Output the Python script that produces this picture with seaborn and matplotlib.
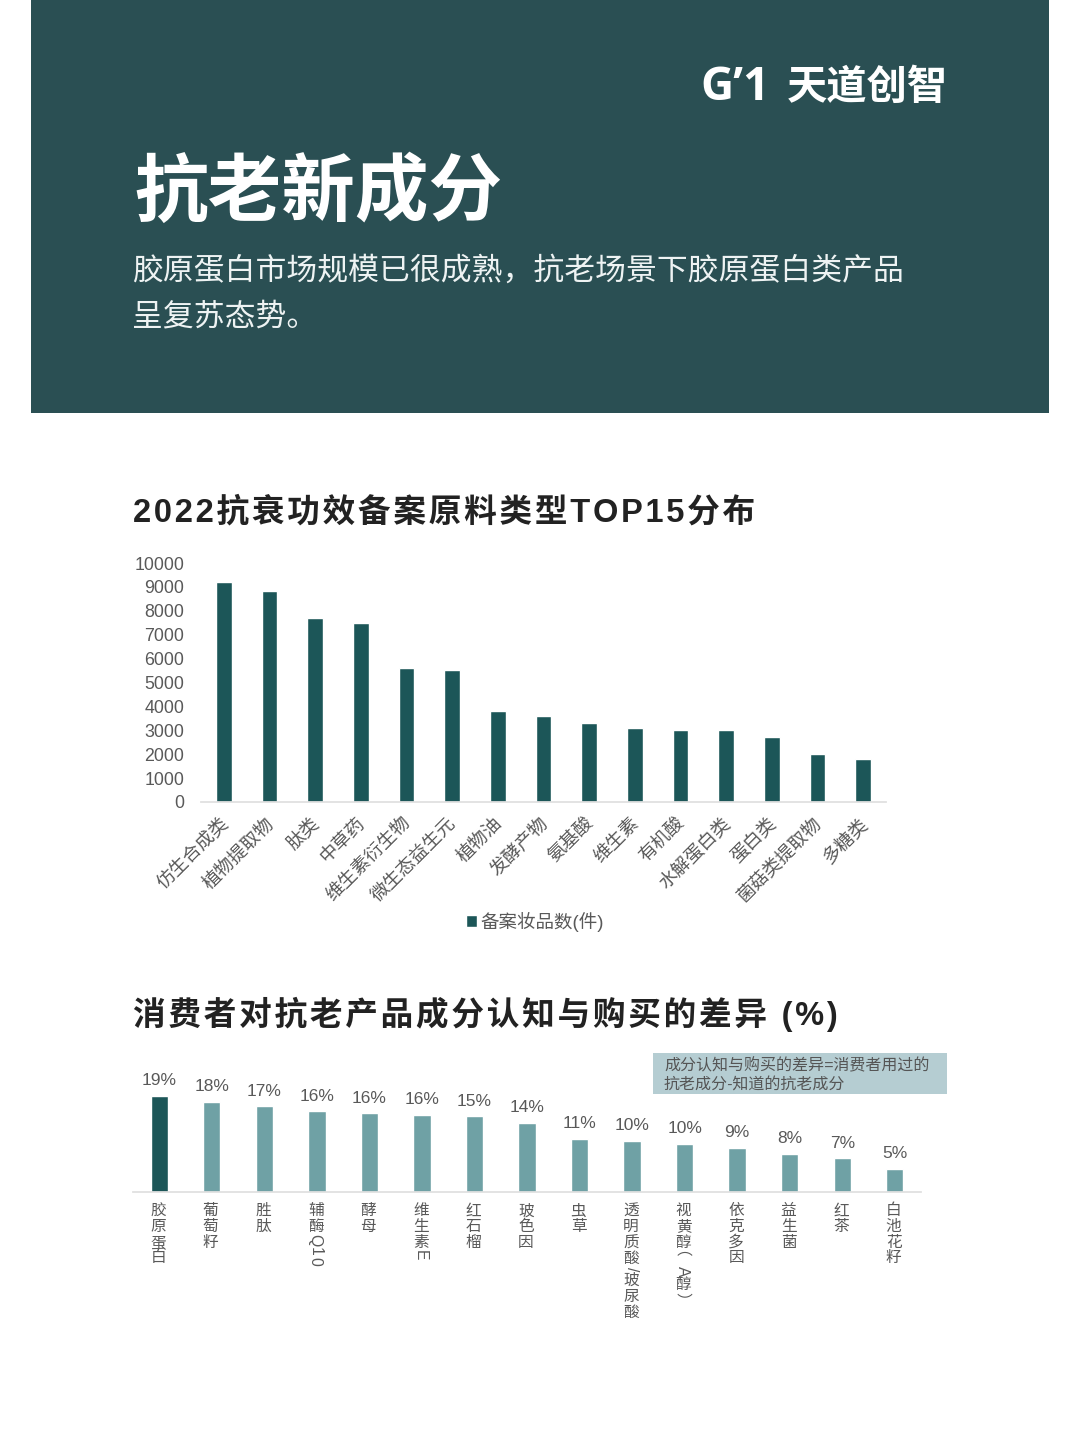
import matplotlib
matplotlib.use('Agg')
import matplotlib.pyplot as plt
from matplotlib.patches import Rectangle
from matplotlib.transforms import ScaledTranslation
import seaborn as sns

# Datos
types = ['仿生合成类', '植物提取物', '肽类', '中草药', '维生素衍生物', '微生态益生元', '植物油', '发酵产物',
         '氨基酸', '维生素', '有机酸', '水解蛋白类', '蛋白类', '菌菇类提取物', '多糖类']
type_counts = [9200, 8820, 7700, 7500, 5600, 5530, 3800, 3600, 3300, 3100, 3000, 3000, 2700, 2000, 1800]

ingredients = ['胶原蛋白', '葡萄籽', '胜肽', '辅酶Q10', '酵母', '维生素E', '红石榴', '玻色因', '虫草',
               '透明质酸/玻尿酸', '视黄醇（A醇）', '依克多因', '益生菌', '红茶', '白池花籽']
gap_values = [19.0, 17.8, 17.0, 16.0, 15.6, 15.3, 15.0, 13.7, 10.5, 10.1, 9.5, 8.7, 7.5, 6.7, 4.6]
gap_labels = ['19%', '18%', '17%', '16%', '16%', '16%', '15%', '14%', '11%', '10%', '10%', '9%', '8%', '7%', '5%']

W, H = 1080, 1440
DARK = '#1c5658'
LIGHT = '#6fa1a5'
HEADER = '#2a4f53'
GREY = '#595959'

sns.set_theme(style='white')
plt.rcParams['font.family'] = ['Liberation Sans', 'Noto Sans CJK SC']

fig = plt.figure(figsize=(W / 100, H / 100), dpi=100, facecolor='white')


def px_axes(left, top, right, bottom):
    return fig.add_axes([left / W, 1 - bottom / H, (right - left) / W, (bottom - top) / H])


def px_text(x, y, s, **kw):
    return fig.text(x / W, 1 - y / H, s, **kw)


# Cabecera
fig.add_artist(Rectangle((31 / W, 1 - 413 / H), 1018 / W, 413 / H, transform=fig.transFigure,
                         facecolor=HEADER, edgecolor='none'))
px_text(700, 88, 'G’1', color='white', fontsize=33, fontweight='bold', va='center', ha='left', family='Open Sans')
px_text(948, 88, '天道创智', color='white', fontsize=29, fontweight='bold', va='center', ha='right')
px_text(134, 194, '抗老新成分', color='white', fontsize=53, fontweight='bold', va='center', ha='left')
px_text(132, 272, '胶原蛋白市场规模已很成熟，抗老场景下胶原蛋白类产品', color='#eef3f3', fontsize=22.2, va='center', ha='left')
px_text(132, 317, '呈复苏态势。', color='#eef3f3', fontsize=22.2, va='center', ha='left')

# titulos con un poco de separacion entre letras
px_text(133, 513, '\u200a'.join('2022抗衰功效备案原料类型TOP15分布'), color='#222222', fontsize=23.5,
        fontweight='bold', va='center')
px_text(133, 1014, '\u200a'.join('消费者对抗老产品成分认知与购买的差异 (%)'), color='#222222', fontsize=23.5,
        fontweight='bold', va='center')

# Grafico 1
ax1 = px_axes(201, 563, 886, 802)
sns.barplot(x=types, y=type_counts, color=DARK, saturation=1, width=0.34, label='备案妆品数(件)', ax=ax1)
ax1.set_xlim(-0.5, 14.5)
ax1.set_ylim(0, 10000)
ax1.set_yticks(range(0, 10001, 1000))
ax1.tick_params(axis='y', length=0, pad=12, labelsize=12.8, labelcolor=GREY)
ax1.tick_params(axis='x', length=0, pad=10, labelsize=13.3, labelcolor=GREY)
shift = ScaledTranslation(-4 / 100, 1 / 100, fig.dpi_scale_trans)
for lab in ax1.get_xticklabels():
    lab.set(rotation=45, ha='right', rotation_mode='anchor')
    lab.set_transform(lab.get_transform() + shift)
sns.despine(ax=ax1, left=True)
ax1.spines['bottom'].set_color('#dfdfdf')
ax1.legend(loc='center', bbox_to_anchor=(0.4875, -0.5), frameon=False, fontsize=13.3,
           labelcolor=GREY, handlelength=0.6, handleheight=0.6, handletextpad=0.2)

# Grafico 2
ax2 = px_axes(133, 1091, 921, 1192)
sns.barplot(x=ingredients, y=gap_values, hue=ingredients,
            palette=[DARK] + [LIGHT] * 14, saturation=1, width=0.33, legend=False, ax=ax2)
ax2.set_xlim(-0.5, 14.5)
ax2.set_ylim(0, 20)
ax2.set_yticks([])
ax2.set_ylabel('')
ax2.set_xticks(range(len(ingredients)))
ax2.set_xticklabels([])
ax2.tick_params(axis='x', length=0)
sns.despine(ax=ax2, left=True)
ax2.spines['bottom'].set_color('#dfdfdf')
for bars, lab in zip(ax2.containers, gap_labels):
    ax2.bar_label(bars, labels=[lab], padding=5.5, fontsize=12.5, color=GREY)

# etiquetas verticales: los caracteres latinos van girados
nudge = {'（': (-12, 0), '）': (-2, 0), '/': (-1, 0)}
for i, name in enumerate(ingredients):
    offset = 11
    for ch in name:
        cjk = ord(ch) > 0x2E80
        adv = 15.7 if cjk else (7 if ch == '/' else 11)
        turned = not cjk or ch in '（）'
        dx, dy = nudge.get(ch, (-2, 0) if turned else (-1, 0))
        ax2.annotate(ch, xy=(i, 0), xycoords=ax2.get_xaxis_transform(),
                     xytext=(dx * 0.72, -(offset + adv / 2 + dy) * 0.72), textcoords='offset points',
                     rotation=270 if turned else 0, ha='center', va='center',
                     fontsize=11.3, color=GREY, annotation_clip=False)
        offset += adv

# Nota
fig.add_artist(Rectangle((653 / W, 1 - 1094 / H), 294 / W, 41 / H, transform=fig.transFigure,
                         facecolor='#b5cdd2', edgecolor='none'))
px_text(664, 1066, '成分认知与购买的差异=消费者用过的', color='#555555', fontsize=11.5, style='italic', va='center')
px_text(664, 1085, '抗老成分-知道的抗老成分', color='#555555', fontsize=11.5, style='italic', va='center')

fig.savefig('out.png', dpi=100)
